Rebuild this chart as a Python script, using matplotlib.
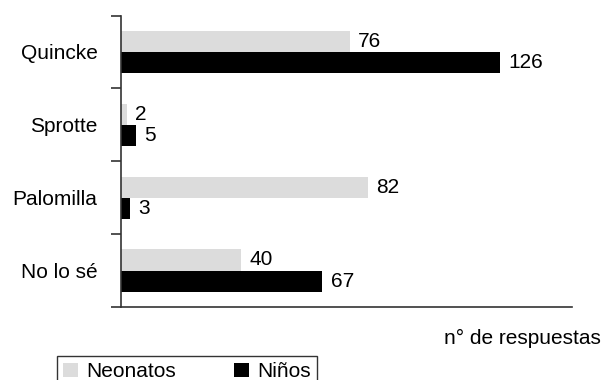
import matplotlib
matplotlib.use("Agg")
import matplotlib.pyplot as plt
import numpy as np

plt.rcParams['font.family'] = ['Liberation Sans', 'DejaVu Sans']

categories = ["Quincke", "Sprotte", "Palomilla", "No lo sé"]
neonatos = [76, 2, 82, 40]
ninos = [126, 5, 3, 67]
series_names = ["Neonatos", "Niños"]
xlabel_text = "n° de respuestas"

FS = 15
grey = "#dcdcdc"

fig = plt.figure(figsize=(6.06, 3.8), dpi=100)
ax = fig.add_axes([121 / 606, 1 - 307 / 380, 451 / 606, 291.5 / 380])

y = np.arange(len(categories))
h = 0.29
b1 = ax.barh(y - h / 2, neonatos, height=h, color=grey, label=series_names[0])
b2 = ax.barh(y + h / 2, ninos, height=h, color="black", label=series_names[1])

for bars, vals in ((b1, neonatos), (b2, ninos)):
    for bar, v in zip(bars, vals):
        ax.annotate(str(v), (bar.get_width(), bar.get_y() + bar.get_height() / 2),
                    xytext=(6, 0), textcoords="offset points",
                    ha="left", va="center", fontsize=FS)

ax.set_xlim(0, 150)
ax.set_ylim(len(categories) - 0.5, -0.5)

for s in ("top", "right"):
    ax.spines[s].set_visible(False)
for s in ("left", "bottom"):
    ax.spines[s].set_color("#333333")
    ax.spines[s].set_linewidth(1.2)

ax.set_xticks([])
ax.set_yticks(y)
ax.set_yticklabels(categories, fontsize=FS)
ax.tick_params(axis="y", which="major", length=0, pad=17)
ax.set_yticks(np.arange(len(categories) + 1) - 0.5, minor=True)
ax.tick_params(axis="y", which="minor", length=7.5, width=1.2, color="#333333", direction="out")

fig.text(601 / 606, 1 - 338 / 380, xlabel_text, ha="right", va="center", fontsize=FS)

leg = ax.legend(loc="upper left", bbox_to_anchor=(57 / 606, 1 - 356 / 380),
                bbox_transform=fig.transFigure, ncol=2, fontsize=FS,
                frameon=True, fancybox=False, edgecolor="black",
                handlelength=0.7, handleheight=0.7, handletextpad=0.4,
                columnspacing=2.8, borderpad=0.3, borderaxespad=0)
leg.get_frame().set_linewidth(1.0)

fig.savefig("out.png", dpi=100)
